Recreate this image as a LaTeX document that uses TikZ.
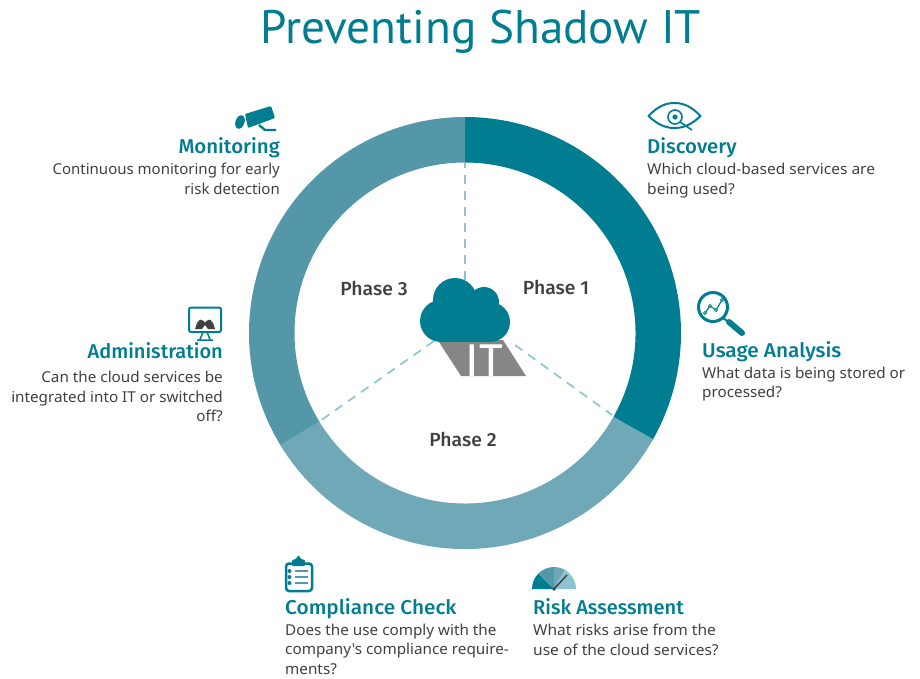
\documentclass[tikz,border=0pt]{standalone}
\usepackage{fontspec}
\setmainfont{Open Sans}
\newfontfamily\bodyf[FakeStretch=1.035]{Noto Sans}
\newfontfamily\bodyfn[FakeStretch=1.0]{Noto Sans}
\newfontfamily\bodyfm[FakeStretch=1.017]{Noto Sans}
\newfontfamily\headf[UprightFont=* Medium,FakeStretch=1.02]{Fira Sans}
\newfontfamily\headfn[UprightFont=* Medium,FakeStretch=1.0]{Fira Sans}
\newfontfamily\headfw[UprightFont=* Medium,FakeStretch=1.04]{Fira Sans}
\newfontfamily\titlef[FakeStretch=1.005]{PT Sans}
\newfontfamily\itf{Fira Sans}
\definecolor{tealA}{HTML}{007D91}
\definecolor{tealB}{HTML}{6FA8B6}
\definecolor{tealC}{HTML}{5497A8}
\definecolor{tealD}{HTML}{8CC4D0}
\definecolor{ink}{HTML}{404040}
\definecolor{itgray}{HTML}{868686}
\tikzset{
  head/.style={text=tealA,font=\headf\fontsize{20}{20}\selectfont,inner sep=0pt},
  headn/.style={head,font=\headfn\fontsize{20}{20}\selectfont},
  headw/.style={head,font=\headfw\fontsize{20}{20}\selectfont},
  body/.style={text=ink,font=\bodyf\fontsize{15}{19.5}\selectfont,inner sep=0pt},
  bodyn/.style={body,font=\bodyfn\fontsize{15}{19.5}\selectfont},
  bodym/.style={body,font=\bodyfm\fontsize{15}{19.5}\selectfont},
  phase/.style={text=ink,font=\headf\fontsize{19}{19}\selectfont,inner sep=0pt},
  spoke/.style={tealD,line width=1.7pt,dash pattern=on 9pt off 7pt},
  icon/.style={tealA,line width=2pt}
}
\begin{document}
\begin{tikzpicture}[x=1pt,y=-1pt]
\useasboundingbox (0,0) rectangle (920,678);
\node[text=tealA,font=\titlef\fontsize{47}{47}\selectfont,inner sep=0pt,anchor=base] (title) at (481,43) {Preventing Shadow IT};
% ring
\begin{scope}[shift={(465,333)},y=1pt]
\fill[tealA] (90:216pt) arc[start angle=90,end angle=-29.5,radius=216pt] -- (-29.5:170.5pt) arc[start angle=-29.5,end angle=90,radius=170.5pt] -- cycle;
\fill[tealB] (-29.5:216pt) arc[start angle=-29.5,end angle=-148.7,radius=216pt] -- (-148.7:170.5pt) arc[start angle=-148.7,end angle=-29.5,radius=170.5pt] -- cycle;
\fill[tealC] (-148.7:216pt) arc[start angle=211.3,end angle=90,radius=216pt] -- (90:170.5pt) arc[start angle=90,end angle=211.3,radius=170.5pt] -- cycle;
\end{scope}
\coordinate (ctop) at (465,163);
\coordinate (cright) at (612,415);
\coordinate (cleft) at (320,421);
\coordinate (hub1) at (465,280);
\coordinate (hub2) at (515,345);
\coordinate (hub3) at (434,341);
\draw[spoke] (hub1) -- (ctop);
\draw[spoke] (hub2) -- (cright);
\draw[spoke] (hub3) -- (cleft);
% IT tag
\fill[itgray] (439,342) -- (503,340) -- (526,376) -- (461,376) -- cycle;
\node[text=white,font=\itf\fontsize{46}{46}\selectfont,inner sep=0pt,anchor=base] (it) at (484.5,376) {IT};
% cloud
\fill[tealA] (455,300) circle[radius=22];
\fill[tealA] (484,302) circle[radius=15];
\fill[tealA] (441,321) circle[radius=21];
\fill[tealA] (490,322) circle[radius=20];
\fill[tealA] (441,310) rectangle (490,342);
% labels
\node[phase] (p1) at (556,287.5) {Phase 1};
\node[phase] (p2) at (463,439.5) {Phase 2};
\node[phase] (p3) at (374,288.5) {Phase 3};
% Discovery
\node[head,anchor=base west] (h1) at (647,153) {Discovery};
\node[body,anchor=north west,align=left] (b1) at (647,163) {Which cloud-based services are\\being used?};
\node[headw,anchor=base west] (h2) at (702,357) {Usage Analysis};
\node[bodym,anchor=north west,align=left] (b2) at (702,366.5) {What data is being stored or\\processed?};
\node[headn,anchor=base west] (h3) at (533,614) {Risk Assessment};
\node[body,anchor=north west,align=left] (b3) at (533,624) {What risks arise from the\\use of the cloud services?};
\node[headw,anchor=base west] (h4) at (285,614) {Compliance Check};
\node[bodym,anchor=north west,align=left] (b4) at (285,623.5) {Does the use comply with the\\company's compliance require-\\ments?};
\node[headn,anchor=base east] (h5) at (223,358.5) {Administration};
\node[bodym,anchor=north east,align=right] (b5) at (223,371) {Can the cloud services be\\integrated into IT or switched\\off?};
\node[head,anchor=base east] (h6) at (280,153) {Monitoring};
\node[bodyn,anchor=north east,align=right] (b6) at (280,163) {Continuous monitoring for early\\risk detection};
% eye icon
\draw[icon,line join=round] (648.5,116) .. controls (658,106) and (666,103) .. (674.5,103) .. controls (683,103) and (691,106) .. (700.5,116) .. controls (691,125) and (683,128) .. (674.5,128) .. controls (666,128) and (658,125) .. (648.5,116) -- cycle;
\draw[icon,line width=1.6pt] (675,117) circle[radius=7];
\fill[tealA] (675,117) circle[radius=2.6];
\draw[icon,line width=1.6pt] (680,122) -- (692,130);
% magnifier
\draw[icon,line width=3pt] (713,307) circle[radius=14.5];
\draw[icon,line width=2pt] (723,318) -- (730,323);
\draw[icon,line width=6pt,line cap=round] (729,322) -- (742,333);
\draw[icon,line width=1.2pt] (705,313) -- (710,306) -- (716,310) -- (722,300);
\foreach \p in {(705,313),(710,306),(716,310),(722,300)} \draw[tealA,fill=white,line width=.8pt] \p circle[radius=1.5];
% camera
\fill[tealA,rounded corners=1pt] (245,114) -- (271,106) -- (275,118) -- (248,128) -- cycle;
\fill[tealA,rotate around={-20:(240,122)}] (240,122) ellipse[x radius=4.5,y radius=7];
\draw[tealA,line width=2.4pt] (259,125) -- (265,130) -- (276,130);
% monitor
\draw[icon,rounded corners=2pt] (189,307.5) rectangle (221,332);
\draw[icon,line width=1.5pt] (203,332) -- (200,339.5) (207,332) -- (210,339.5) (197,340) -- (213,340);
\fill[ink] (195,329) -- (197,323) -- (200,319.5) -- (204,321) -- (205,323) -- (206,321) -- (210,319.5) -- (213,323) -- (215,329) -- (208,329) -- (205,325) -- (202,329) -- cycle;
% clipboard
\draw[icon,line width=2.5pt,rounded corners=3pt] (286,563.5) rectangle (312,591);
\fill[tealA,rounded corners=1pt] (292,566) -- (292,560) -- (296,559) -- (298.5,555) -- (301,559) -- (305,560) -- (305,566) -- cycle;
\foreach \yy in {571,577,583} {
  \fill[tealA] (289.5,\yy) circle[radius=2];
  \draw[tealC,line width=2pt] (295,\yy) -- (308,\yy);
}
% gauge
\begin{scope}[shift={(554,589)},y=1pt]
\fill[tealA] (0,0) -- (180:22pt) arc[start angle=180,end angle=135,radius=22pt] -- cycle;
\fill[tealC] (0,0) -- (135:22pt) arc[start angle=135,end angle=90,radius=22pt] -- cycle;
\fill[tealB] (0,0) -- (90:22pt) arc[start angle=90,end angle=60,radius=22pt] -- cycle;
\fill[tealD] (0,0) -- (60:22pt) arc[start angle=60,end angle=0,radius=22pt] -- cycle;
\draw[ink,line width=1.5pt] (0,0) -- (13,14);
\fill[ink] (0,0) circle[radius=1.8pt];
\end{scope}
\end{tikzpicture}
\end{document}
